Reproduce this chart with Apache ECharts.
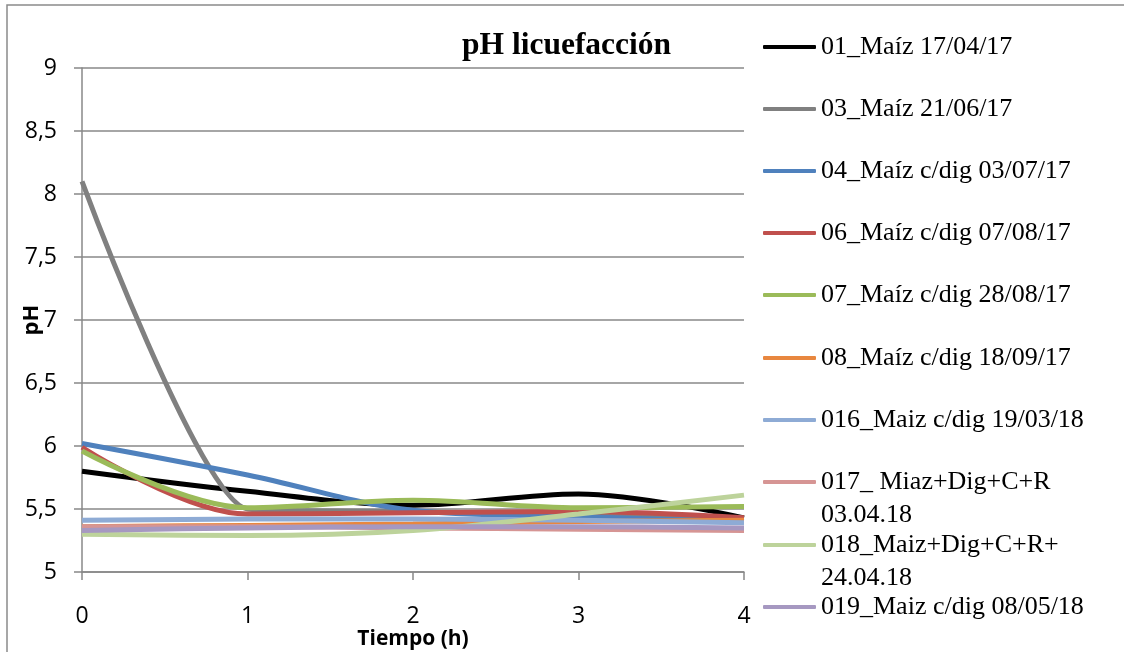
<!DOCTYPE html>
<html>
<head>
<meta charset="utf-8">
<script src="https://cdn.jsdelivr.net/npm/echarts@6/dist/echarts.min.js"></script>
<style>
html,body{margin:0;padding:0;background:#fff;}
#chart{width:1124px;height:652px;}
</style>
</head>
<body>
<div id="chart"></div>
<script>
// ---- data ----
const hours = [0, 1, 2, 3, 4];
const seriesNames = [
  '01_Maíz 17/04/17',
  '03_Maíz 21/06/17',
  '04_Maíz c/dig 03/07/17',
  '06_Maíz c/dig 07/08/17',
  '07_Maíz c/dig 28/08/17',
  '08_Maíz c/dig 18/09/17',
  '016_Maiz c/dig 19/03/18',
  '017_ Miaz+Dig+C+R\n03.04.18',
  '018_Maiz+Dig+C+R+\n24.04.18',
  '019_Maiz c/dig 08/05/18'
];
const s01 = [5.80, 5.64, 5.53, 5.62, 5.43];
const s03 = [8.10, 5.50, 5.48, 5.45, 5.42];
const s04 = [6.02, 5.77, 5.49, 5.44, 5.40];
const s06 = [5.99, 5.46, 5.47, 5.48, 5.43];
const s07 = [5.96, 5.51, 5.57, 5.51, 5.52];
const s08 = [5.36, 5.37, 5.38, 5.40, 5.41];
const s016 = [5.41, 5.42, 5.42, 5.41, 5.39];
const s017 = [5.36, 5.36, 5.35, 5.34, 5.33];
const s018 = [5.30, 5.29, 5.33, 5.46, 5.61];
const s019 = [5.33, 5.35, 5.36, 5.36, 5.35];
const yTicks = ['5', '5,5', '6', '6,5', '7', '7,5', '8', '8,5', '9'];
const seriesValues = [s01, s03, s04, s06, s07, s08, s016, s017, s018, s019];
const colors = ['#000000', '#808080', '#4F81BD', '#C0504D', '#9BBB59', '#E8873F', '#8EABD5', '#D69594', '#BDD39B', '#A698C1'];

// ---- layout ----
const legendCenters = [47, 109, 171, 233, 295, 358, 420, 482, 545, 607];
const LH = 33;

const series = seriesValues.map((vals, i) => ({
  name: seriesNames[i],
  type: 'line',
  data: hours.map((h, k) => [h, vals[k]]),
  smooth: i === 1 ? 0.2 : 0.35,
  symbol: 'none',
  showSymbol: false,
  lineStyle: { width: 5, color: colors[i] },
  itemStyle: { color: colors[i] },
  z: 2 + i
}));

const legends = seriesNames.map((n, i) => {
  const multi = n.indexOf('\n') >= 0;
  return {
    data: [n],
    left: 763,
    top: legendCenters[i] - (multi ? 1.5 * LH : LH / 2),
    padding: 0,
    orient: 'vertical',
    icon: 'roundRect',
    itemWidth: 53,
    itemHeight: 4,
    selectedMode: false,
    formatter: multi ? (name => '\n' + name) : (name => name),
    textStyle: { fontFamily: 'Liberation Serif', fontSize: 26, color: '#000', lineHeight: LH }
  };
});

const chart = echarts.init(document.getElementById('chart'), null, { renderer: 'canvas' });
chart.setOption({
  animation: false,
  color: colors,
  title: {
    text: 'pH licuefacción',
    left: 462,
    top: 30,
    padding: 0,
    textStyle: { fontFamily: 'Liberation Serif', fontWeight: 'bold', fontSize: 31.5, color: '#000' }
  },
  legend: legends,
  graphic: [{
    type: 'rect',
    shape: { x: 7, y: 5, width: 1200, height: 700 },
    style: { fill: 'none', stroke: '#8a8a8a', lineWidth: 1.5 },
    silent: true
  }],
  grid: { left: 82, right: 380, top: 68, bottom: 80, outerBoundsMode: 'none', containLabel: false },
  xAxis: {
    type: 'value', min: 0, max: 4, interval: 1,
    name: 'Tiempo (h)', nameLocation: 'middle', nameGap: 57, nameMoveOverlap: false,
    nameTextStyle: { fontFamily: 'Open Sans', fontWeight: 'bold', fontSize: 21, color: '#000' },
    axisLine: { show: true, lineStyle: { color: '#888', width: 1.5 } },
    axisTick: { show: true, length: 8, lineStyle: { color: '#888', width: 1.5 } },
    axisLabel: { margin: 33, fontFamily: 'Open Sans', fontSize: 23, color: '#000' },
    splitLine: { show: false }
  },
  yAxis: {
    type: 'value', min: 5, max: 9, interval: 0.5,
    name: 'pH', nameLocation: 'middle', nameGap: 39, nameMoveOverlap: false,
    nameTextStyle: { fontFamily: 'Open Sans', fontWeight: 'bold', fontSize: 22, color: '#000' },
    axisLine: { show: true, lineStyle: { color: '#888', width: 1.5 } },
    axisTick: { show: true, length: 8, lineStyle: { color: '#888', width: 1.5 } },
    axisLabel: {
      margin: 25, fontFamily: 'Open Sans', fontSize: 23, color: '#000',
      formatter: (v) => yTicks[Math.round((v - 5) / 0.5)]
    },
    splitLine: { show: true, lineStyle: { color: '#888', width: 1.5 } }
  },
  series: series
});
</script>
</body>
</html>
